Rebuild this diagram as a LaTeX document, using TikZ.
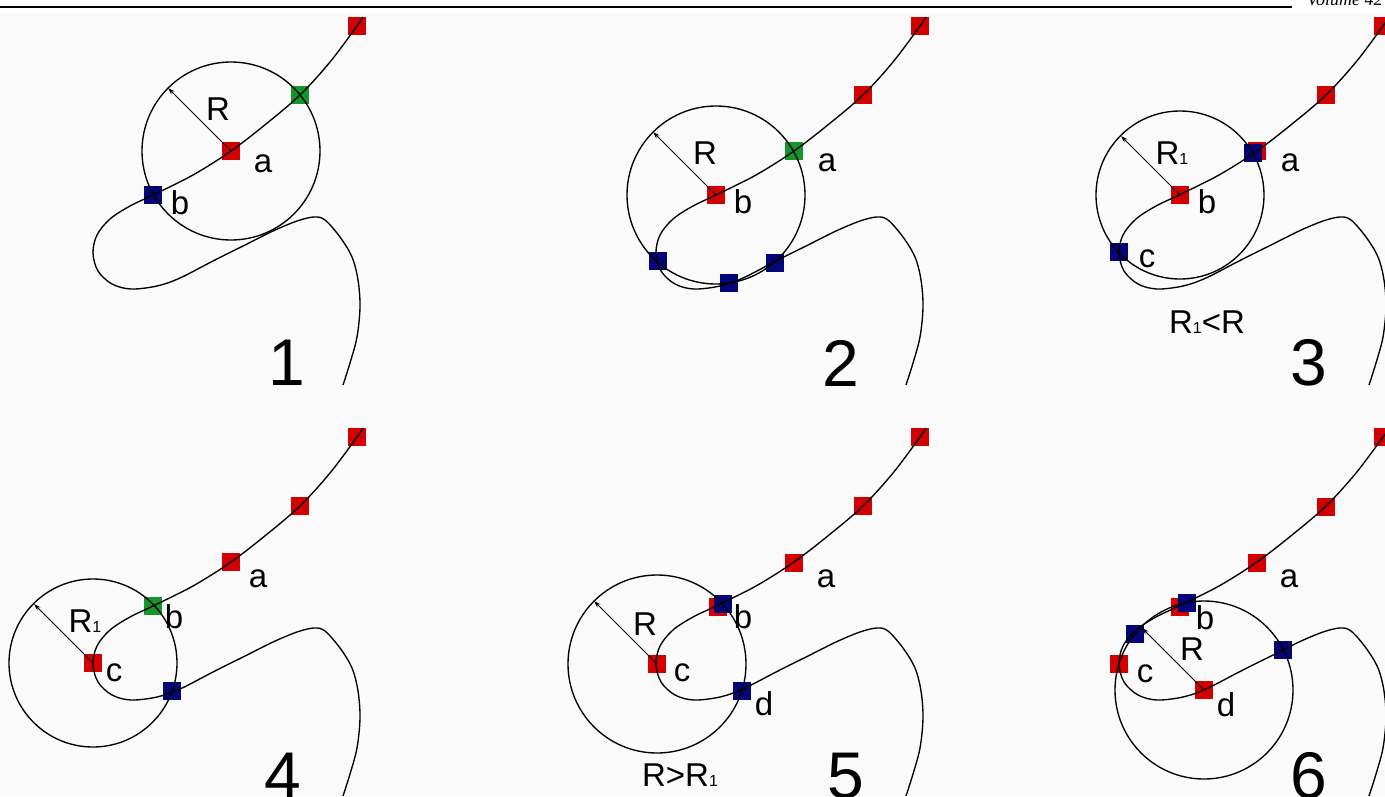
\documentclass[tikz,border=0pt]{standalone}
\usepackage{fontspec}
\setmainfont{Liberation Sans}
\newfontfamily\serifit{Liberation Serif}
\usetikzlibrary{arrows.meta}
\definecolor{sqred}{RGB}{210,0,0}
\definecolor{sqgreen}{RGB}{20,150,45}
\definecolor{sqblue}{RGB}{5,5,120}
\definecolor{bggray}{RGB}{250,250,250}
\newcommand{\subone}{{\fontsize{16}{16}\selectfont 1}}
\tikzset{
  sq/.style={rectangle, minimum size=18pt, inner sep=0pt, draw=none},
  rsq/.style={sq, fill=sqred},
  gsq/.style={sq, fill=sqgreen},
  bsq/.style={sq, fill=sqblue},
  curveline/.style={line width=1.35pt, black},
  ring/.style={line width=1.35pt, black},
  radarrow/.style={line width=1pt, -{Stealth[length=7pt,width=4.5pt]}},
  lbl/.style={inner sep=0pt, font=\fontsize{33}{33}\selectfont},
  num/.style={inner sep=0pt, font=\fontsize{66}{66}\selectfont},
  thecurve/.pic={
    \draw[curveline] plot[smooth, tension=0.55] coordinates {
      (363,17) (357,26) (330,62) (300,95) (266,124)
      (231,151) (193,175) (153,195) (130,206) (110,219) (97,235)
      (93,253) (98,271) (112,284) (131,289) (157,286) (180,278) (213,261)
      (247,244) (273,231) (297,221) (314,217) (325,220) (340,237) (352,257)
      (358,280) (360,307) (357,337) (350,363) (343,385)};
  }
}
\begin{document}
\begin{tikzpicture}[x=1pt, y=-1pt]
\useasboundingbox (0,0) rectangle (1385,796);
\fill[white] (0,0) rectangle (1385,796);
\fill[bggray] (0,13) rectangle (1385,796);
\draw[line width=1.3pt] (0,7) -- (1292,7);
\node[anchor=base west, inner sep=0pt, font=\serifit\itshape\fontsize{18}{18}\selectfont] (vol) at (1307,5) {Volume 42};

% ---------- panel 1 ----------
\begin{scope}
  \node[rsq] (p1t) at (357,26) {};
  \node[gsq] (p1g) at (300,95) {};
  \node[rsq] (p1a) at (231,151) {};
  \node[bsq] (p1b) at (153,195) {};
  \pic at (0,0) {thecurve};
  \draw[ring] (p1a.center) circle[radius=89pt];
  \draw[radarrow] (p1a.center) -- ++(-63,-63);
  \node[lbl] (p1R) at (218,109) {R};
  \node[lbl] (p1la) at (263,164) {a};
  \node[lbl] (p1lb) at (180,203) {b};
  \node[num] (p1n) at (287,363) {1};
\end{scope}

% ---------- panel 2 ----------
\begin{scope}[shift={(563,0)}]
  \node[rsq] (p2t) at (357,26) {};
  \node[rsq] (p2s) at (300,95) {};
  \node[gsq] (p2a) at (231,151) {};
  \node[rsq] (p2b) at (153,195) {};
  \node[bsq] (p2u) at (95,261) {};
  \node[bsq] (p2v) at (166,283) {};
  \node[bsq] (p2w) at (212,263) {};
  \pic at (0,0) {thecurve};
  \draw[ring] (p2b.center) circle[radius=89pt];
  \draw[radarrow] (p2b.center) -- ++(-63,-63);
  \node[lbl] (p2R) at (142,153) {R};
  \node[lbl] (p2la) at (264,163) {a};
  \node[lbl] (p2lb) at (180,202) {b};
  \node[num] (p2n) at (278,363) {2};
\end{scope}

% ---------- panel 3 ----------
\begin{scope}[shift={(1026,0)}]
  \node[rsq] (p3t) at (357,26) {};
  \node[rsq] (p3s) at (300,95) {};
  \node[rsq] (p3a) at (231,151) {};
  \node[bsq] (p3ab) at (227,153) {};
  \node[rsq] (p3b) at (154,195) {};
  \node[bsq] (p3c) at (93,252) {};
  \pic at (0,0) {thecurve};
  \draw[ring] (p3b.center) circle[radius=84pt];
  \draw[radarrow] (p3b.center) -- ++(-59,-59);
  \node[lbl] (p3R) at (146,153) {R\subone};
  \node[lbl] (p3la) at (264,163) {a};
  \node[lbl] (p3lb) at (181,202) {b};
  \node[lbl] (p3lc) at (121,259) {c};
  \node[lbl] (p3cmp) at (181,322) {R\subone<R};
  \node[num] (p3n) at (283,363) {3};
\end{scope}

% ---------- panel 4 ----------
\begin{scope}[shift={(0,411)}]
  \node[rsq] (p4t) at (357,26) {};
  \node[rsq] (p4s) at (300,95) {};
  \node[rsq] (p4a) at (231,151) {};
  \node[gsq] (p4b) at (153,195) {};
  \node[rsq] (p4c) at (93,252) {};
  \node[bsq] (p4d) at (172,280) {};
  \pic at (0,0) {thecurve};
  \draw[ring] (p4c.center) circle[radius=84pt];
  \draw[radarrow] (p4c.center) -- ++(-59,-59);
  \node[lbl] (p4R) at (85,210) {R\subone};
  \node[lbl] (p4la) at (258,168) {a};
  \node[lbl] (p4lb) at (174,206) {b};
  \node[lbl] (p4lc) at (114,262) {c};
  \node[num] (p4n) at (283,365) {4};
\end{scope}

% ---------- panel 5 ----------
\begin{scope}[shift={(563,411)}]
  \node[rsq] (p5t) at (357,26) {};
  \node[rsq] (p5s) at (300,95) {};
  \node[rsq] (p5a) at (231,152) {};
  \node[rsq] (p5b) at (155,196) {};
  \node[bsq] (p5bb) at (160,193) {};
  \node[rsq] (p5c) at (94,253) {};
  \node[bsq] (p5d) at (179,280) {};
  \pic at (0,0) {thecurve};
  \draw[ring] (p5c.center) circle[radius=89pt];
  \draw[radarrow] (p5c.center) -- ++(-63,-63);
  \node[lbl] (p5R) at (82,213) {R};
  \node[lbl] (p5la) at (263,168) {a};
  \node[lbl] (p5lb) at (180,206) {b};
  \node[lbl] (p5lc) at (119,262) {c};
  \node[lbl] (p5ld) at (201,293) {d};
  \node[lbl] (p5cmp) at (117,364) {R>R\subone};
  \node[num] (p5n) at (283,365) {5};
\end{scope}

% ---------- panel 6 ----------
\begin{scope}[shift={(1026,411)}]
  \node[rsq] (p6t) at (357,26) {};
  \node[rsq] (p6s) at (300,96) {};
  \node[rsq] (p6a) at (231,152) {};
  \node[rsq] (p6b) at (154,196) {};
  \node[bsq] (p6bb) at (161,192) {};
  \node[bsq] (p6e) at (109,223) {};
  \node[rsq] (p6c) at (93,253) {};
  \node[rsq] (p6d) at (178,279) {};
  \node[bsq] (p6f) at (257,239) {};
  \pic at (0,0) {thecurve};
  \draw[ring] (p6d.center) circle[radius=89pt];
  \draw[radarrow] (p6d.center) -- ++(-62,-62);
  \node[lbl] (p6R) at (166,238) {R};
  \node[lbl] (p6la) at (263,168) {a};
  \node[lbl] (p6lb) at (179,207) {b};
  \node[lbl] (p6lc) at (119,263) {c};
  \node[lbl] (p6ld) at (200,294) {d};
  \node[num] (p6n) at (283,365) {6};
\end{scope}
\end{tikzpicture}
\end{document}
